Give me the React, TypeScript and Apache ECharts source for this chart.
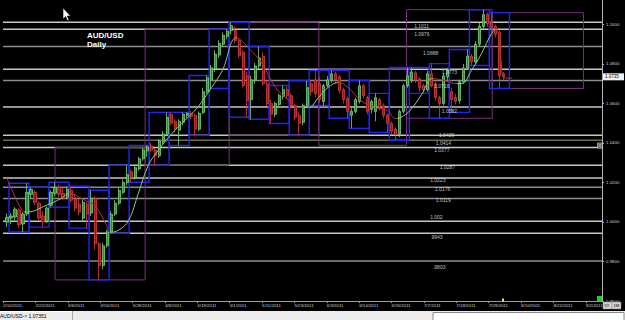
import React, { useEffect, useRef } from 'react';
import * as echarts from 'echarts';

// ---- x axis tick labels (one every 8.09 bars) ----
const tickLabels = ['2/10/2011', '2/22/2011', '3/6/2011', '3/16/2011', '3/28/2011', '4/8/2011', '4/19/2011', '5/1/2011', '5/11/2011', '5/23/2011', '6/3/2011', '6/14/2011', '6/26/2011', '7/7/2011', '7/18/2011', '7/29/2011', '8/10/2011', '8/22/2011', '9/2/2011'];

// ---- daily candles, bar index 1..125 ----
const opens = [
  0.9999, 1.0020, 1.0025, 1.0060, 0.9990, 1.0040,
  1.0140, 1.0150, 1.0095, 1.0030, 1.0005,
  1.0085, 1.0145, 1.0175, 1.0145, 1.0125,
  1.0160, 1.0115, 1.0090, 1.0020, 1.0090,
  1.0045, 1.0120, 0.9890, 0.9780, 0.9880,
  0.9950, 1.0040, 1.0095, 1.0150, 1.0200,
  1.0255, 1.0225, 1.0270, 1.0320, 1.0360,
  1.0385, 1.0365, 1.0335, 1.0405, 1.0445,
  1.0545, 1.0510, 1.0465, 1.0505, 1.0540,
  1.0550, 1.0540, 1.0470, 1.0555, 1.0660,
  1.0720, 1.0775, 1.0845, 1.0900, 1.0940,
  1.0969, 1.0969, 1.0918, 1.0860, 1.0740,
  1.0620, 1.0720, 1.0790, 1.0840, 1.0700,
  1.0600, 1.0545, 1.0595, 1.0635, 1.0670,
  1.0640, 1.0590, 1.0540, 1.0505, 1.0590,
  1.0700, 1.0720, 1.0700, 1.0610, 1.0690,
  1.0720, 1.0750, 1.0735, 1.0670, 1.0625,
  1.0540, 1.0560, 1.0610, 1.0690, 1.0630,
  1.0570, 1.0560, 1.0620, 1.0590, 1.0540,
  1.0500, 1.0470, 1.0445, 1.0560, 1.0690,
  1.0720, 1.0755, 1.0725, 1.0690, 1.0670,
  1.0750, 1.0700, 1.0630, 1.0600, 1.0735,
  1.0660, 1.0630, 1.0615, 1.0710, 1.0780,
  1.0840, 1.0810, 1.0900, 1.0990, 1.1050,
  1.1010, 1.0990, 1.0960, 1.0750,
];
const closes = [
  1.0024, 1.0030, 1.0065, 0.9985, 1.0040, 1.0150,
  1.0165, 1.0100, 1.0020, 1.0000, 1.0070,
  1.0150, 1.0175, 1.0140, 1.0120, 1.0165,
  1.0110, 1.0070, 1.0050, 1.0100, 1.0040,
  1.0120, 0.9890, 0.9780, 0.9880, 0.9950,
  1.0040, 1.0095, 1.0160, 1.0200, 1.0240,
  1.0225, 1.0275, 1.0320, 1.0365, 1.0380,
  1.0365, 1.0335, 1.0410, 1.0445, 1.0530,
  1.0500, 1.0470, 1.0510, 1.0545, 1.0550,
  1.0535, 1.0470, 1.0550, 1.0660, 1.0730,
  1.0780, 1.0850, 1.0905, 1.0945, 1.0965,
  1.0994, 1.0918, 1.0842, 1.0691, 1.0615,
  1.0720, 1.0790, 1.0830, 1.0700, 1.0600,
  1.0545, 1.0600, 1.0640, 1.0670, 1.0640,
  1.0590, 1.0530, 1.0500, 1.0590, 1.0680,
  1.0660, 1.0650, 1.0620, 1.0690, 1.0720,
  1.0750, 1.0720, 1.0665, 1.0620, 1.0560,
  1.0560, 1.0620, 1.0690, 1.0640, 1.0560,
  1.0610, 1.0630, 1.0580, 1.0540, 1.0500,
  1.0460, 1.0445, 1.0560, 1.0690, 1.0740,
  1.0760, 1.0720, 1.0680, 1.0670, 1.0750,
  1.0690, 1.0630, 1.0600, 1.0740, 1.0770,
  1.0620, 1.0610, 1.0710, 1.0780, 1.0840,
  1.0810, 1.0900, 1.0990, 1.1050, 1.1005,
  1.0985, 1.0950, 1.0740, 1.0735,
];
const lows = [
  0.9974, 0.9990, 1.0010, 0.9970, 0.9949, 1.0030,
  1.0120, 1.0085, 1.0005, 0.9974, 0.9995,
  1.0075, 1.0130, 1.0125, 1.0110, 1.0115,
  1.0100, 1.0055, 1.0035, 1.0000, 0.9969,
  1.0030, 0.9860, 0.9707, 0.9760, 0.9870,
  0.9943, 1.0030, 1.0085, 1.0140, 1.0185,
  1.0201, 1.0215, 1.0260, 1.0310, 1.0330,
  1.0355, 1.0287, 1.0325, 1.0395, 1.0435,
  1.0490, 1.0455, 1.0388, 1.0490, 1.0525,
  1.0520, 1.0439, 1.0460, 1.0545, 1.0650,
  1.0676, 1.0760, 1.0830, 1.0885, 1.0925,
  1.0950, 1.0905, 1.0830, 1.0680, 1.0530,
  1.0520, 1.0700, 1.0775, 1.0690, 1.0585,
  1.0499, 1.0530, 1.0580, 1.0620, 1.0625,
  1.0575, 1.0515, 1.0439, 1.0490, 1.0580,
  1.0640, 1.0630, 1.0605, 1.0590, 1.0680,
  1.0705, 1.0700, 1.0650, 1.0600, 1.0525,
  1.0474, 1.0550, 1.0600, 1.0625, 1.0545,
  1.0550, 1.0510, 1.0565, 1.0525, 1.0454,
  1.0440, 1.0414, 1.0430, 1.0550, 1.0680,
  1.0705, 1.0705, 1.0660, 1.0651, 1.0660,
  1.0680, 1.0615, 1.0525, 1.0590, 1.0720,
  1.0555, 1.0595, 1.0600, 1.0700, 1.0770,
  1.0792, 1.0800, 1.0890, 1.0980, 1.0990,
  1.0960, 1.0935, 1.0676, 1.0720,
];
const highs = [
  1.0044, 1.0045, 1.0075, 1.0070, 1.0050, 1.0196,
  1.0176, 1.0160, 1.0105, 1.0055, 1.0080,
  1.0160, 1.0201, 1.0190, 1.0175, 1.0175,
  1.0181, 1.0140, 1.0120, 1.0115, 1.0100,
  1.0161, 1.0130, 0.9900, 0.9895, 0.9960,
  1.0055, 1.0110, 1.0175, 1.0215, 1.0287,
  1.0265, 1.0290, 1.0330, 1.0377, 1.0388,
  1.0400, 1.0375, 1.0420, 1.0460, 1.0555,
  1.0555, 1.0520, 1.0520, 1.0555, 1.0555,
  1.0560, 1.0550, 1.0560, 1.0680, 1.0742,
  1.0795, 1.0870, 1.0920, 1.0960, 1.0976,
  1.1011, 1.0990, 1.0930, 1.0870, 1.0760,
  1.0740, 1.0805, 1.0888, 1.0860, 1.0720,
  1.0620, 1.0610, 1.0650, 1.0691, 1.0685,
  1.0650, 1.0600, 1.0555, 1.0600, 1.0716,
  1.0715, 1.0767, 1.0730, 1.0700, 1.0740,
  1.0767, 1.0760, 1.0745, 1.0680, 1.0635,
  1.0575, 1.0630, 1.0717, 1.0700, 1.0640,
  1.0620, 1.0651, 1.0630, 1.0600, 1.0550,
  1.0510, 1.0480, 1.0570, 1.0700, 1.0782,
  1.0782, 1.0765, 1.0735, 1.0700, 1.0765,
  1.0802, 1.0710, 1.0640, 1.0750, 1.0780,
  1.0680, 1.0650, 1.0720, 1.0800, 1.0873,
  1.0850, 1.0915, 1.1010, 1.1075, 1.1060,
  1.1060, 1.1000, 1.0970, 1.0760,
];
const lastPrice = 1.0735;
const statusPrice = '1.07351';

// ---- weekly range boxes (blue) ----
const weekEdges = [1.5, 6.5, 11.5, 16.5, 21.5, 26.5, 31.5, 36.5, 41.5, 46.5, 51.5, 56.5, 61.5, 66.5, 71.5, 76.5, 81.5, 86.5, 91.5, 96.5, 101.5, 106.5, 111.5, 116.5, 121.5, 126.5];
const weekHigh = [1.0196, 1.0176, 1.0201, 1.0181, 1.0161, 1.0287, 1.0388, 1.0555, 1.0555, 1.0742, 1.0976, 1.1011, 1.0888, 1.0691, 1.0716, 1.0767, 1.0767, 1.0717, 1.0651, 1.0782, 1.0782, 1.0802, 1.0873, 1.1075, 1.1060];
const weekLow = [0.9949, 0.9974, 1.0075, 0.9969, 0.9707, 0.9943, 1.0201, 1.0287, 1.0388, 1.0439, 1.0676, 1.0530, 1.0520, 1.0499, 1.0439, 1.0590, 1.0525, 1.0474, 1.0454, 1.0414, 1.0651, 1.0525, 1.0555, 1.0792, 1.0676];

// ---- monthly range boxes (purple) ----
const monthStart = [13, 35.5, 56.5, 78.9, 100.8, 122.2];
const monthEnd = [35.5, 56.5, 78.9, 100.8, 122.2, 145];
const monthHigh = [1.0377, 1.0976, 1.1011, 1.0773, 1.1075, 1.1060];
const monthLow = [0.9707, 1.0287, 1.0439, 1.0388, 1.0525, 1.0676];

// ---- horizontal levels ----
const levelValues = [1.1011, 1.0976, 1.0888, 1.0773, 1.0716, 1.0582, 1.0439, 1.0414, 1.0377, 1.0287, 1.0223, 1.0176, 1.0119, 1.0004, 0.9943, 0.9803];
const levelLabels = ['1.1011', '1.0976', '1.0888', '1.0773', '1.0716', '1.0582', '1.0439', '1.0414', '1.0377', '1.0287', '1.0223', '1.0176', '1.0119', '1.002', '.9943', '.9803'];
const levelTone = ['hi', 'hi', 'mid', 'hi', 'mid', 'hi', 'hi', 'olive', 'hi', 'hi', 'hi', 'mid', 'mid', 'hi', 'hi', 'mid'];
// label placement (style)
const levelLabelX = [102.7, 102.7, 104.9, 109.6, 107.7, 109.6, 108.9, 108.1, 107.7, 109.1, 106.7, 107.9, 108.1, 106.7, 106.7, 107.4];
const levelLabelDy = [3.4, 4.7, 6, 2.4, 5, 4.4, -0.7, 2.7, 2.4, 1.7, 2, 2, 1.7, -4.5, 3.3, 6];

// ---- moving average line ----
const maIdx = [1, 4.7, 5.9, 10.9, 14.6, 16.5, 19.5, 23.2, 25.7, 26.7, 28.9, 31.4, 33.8, 36.3, 38.8, 42.2, 45.4, 48.6, 52.1, 54.8, 58.3, 61.5, 64.7, 68.1, 71.4, 73.8, 76.3, 78.8, 81.2, 83.7, 86.2, 89.4, 92.8, 96.0, 98.0, 99.3, 101.7, 104.7, 107.2, 110.4, 112.8, 114.6, 117.0, 119.5, 122.0, 123.2, 124.4, 125.2, 127.2];
const maVal = [1.0221, 1.0060, 1.0050, 1.0085, 1.0120, 1.0145, 1.0120, 1.0075, 0.9989, 0.9948, 0.9959, 1.0009, 1.0145, 1.0287, 1.0363, 1.0448, 1.0514, 1.0580, 1.0681, 1.0767, 1.0933, 1.0878, 1.0802, 1.0681, 1.0615, 1.0580, 1.0580, 1.0630, 1.0681, 1.0706, 1.0681, 1.0615, 1.0580, 1.0565, 1.0524, 1.0529, 1.0565, 1.0650, 1.0726, 1.0716, 1.0701, 1.0701, 1.0767, 1.0852, 1.0953, 1.0979, 1.0817, 1.0731, 1.0728];
const maFallRanges = [[0, 5.3], [16.5, 26.7], [58.3, 75], [83.7, 98.5], [107.5, 113.5], [123.2, 150]];

const FONT = 'Liberation Sans, Arial, sans-serif';
const toneColor: Record<string, string> = { hi: '#c6c6c6', mid: '#8c8c8c', olive: '#6e6e4a' };

export default function App() {
  const ref = useRef<HTMLDivElement>(null);
  useEffect(() => {
    const chart = echarts.init(ref.current!, undefined, { renderer: 'svg' });

    const candleData = opens.map((o, k) => [k + 1, o, closes[k], lows[k], highs[k]]);
    const weekData = weekHigh.map((h, k) => [weekEdges[k], weekEdges[k + 1], h, weekLow[k]]);
    const monthData = monthHigh.map((h, k) => [monthStart[k], monthEnd[k], h, monthLow[k]]);
    const levelData = levelValues.map((v, k) => [0, v, k]);
    const maData = maIdx.map((x, k) => [x, maVal[k]]);

    const pieces: any[] = [];
    let prev = 0;
    maFallRanges.forEach(([a, b]) => {
      if (a > prev) pieces.push({ gte: prev, lt: a, color: '#86c886' });
      pieces.push({ gte: a, lt: b, color: '#b83232' });
      prev = b;
    });

    const boxRender = (color: string, width: number) => (params: any, api: any) => {
      const p0 = api.coord([api.value(0), api.value(2)]);
      const p1 = api.coord([api.value(1), api.value(3)]);
      return {
        type: 'rect',
        shape: { x: p0[0], y: p0[1], width: p1[0] - p0[0], height: p1[1] - p0[1] },
        style: { fill: 'none', stroke: color, lineWidth: width },
        silent: true,
      };
    };

    const option: any = {
      animation: false,
      backgroundColor: '#000000',
      textStyle: { fontFamily: FONT },
      grid: { left: -4, top: 0, width: 606, height: 301 },
      xAxis: [
        { type: 'value', min: 0, max: 149.63, show: false, axisLine: { onZero: false } },
        {
          type: 'value', min: 0, max: 18.5, interval: 1, position: 'bottom',
          axisLine: { show: true, onZero: false, lineStyle: { color: '#9a9a9a', width: 1 } },
          axisTick: { show: true, length: 2, lineStyle: { color: '#9a9a9a' } },
          axisLabel: {
            formatter: (v: number) => tickLabels[Math.round(v)] ?? '',
            fontSize: 4.4, color: '#cfcfcf', align: 'left', margin: 2,
            showMaxLabel: false, fontFamily: FONT,
          },
          splitLine: { show: false },
        },
      ],
      yAxis: {
        type: 'value', position: 'right', min: 0.96, max: 1.1124, interval: 0.02,
        axisLine: { show: true, onZero: false, lineStyle: { color: '#b4b4b4', width: 1 } },
        axisTick: { show: true, length: 2, lineStyle: { color: '#b4b4b4' } },
        axisLabel: { fontSize: 4.4, color: '#cfcfcf', margin: 4, formatter: (v: number) => v.toFixed(4), showMaxLabel: false, fontFamily: FONT },
        splitLine: { show: false },
      },
      visualMap: {
        show: false, type: 'piecewise', dimension: 0, seriesIndex: 4,
        pieces: pieces.concat(prev < 150 ? [{ gte: prev, lt: 151, color: '#86c886' }] : []),
      },
      series: [
        {
          type: 'custom', name: 'levels', xAxisIndex: 0, data: levelData, encode: { x: 0, y: 1 }, z: 1, silent: true,
          renderItem: (params: any, api: any) => {
            const y = api.coord([0, api.value(1)])[1];
            const cs = params.coordSys;
            return {
              type: 'line',
              shape: { x1: cs.x, y1: y, x2: cs.x + cs.width, y2: y },
              style: { stroke: toneColor[levelTone[api.value(2)]], lineWidth: 1.5 },
            };
          },
        },
        { type: 'custom', name: 'months', xAxisIndex: 0, data: monthData, encode: { x: [0, 1], y: [2, 3] }, z: 2, renderItem: boxRender('#76327a', 1), silent: true },
        { type: 'custom', name: 'weeks', xAxisIndex: 0, data: weekData, encode: { x: [0, 1], y: [2, 3] }, z: 3, renderItem: boxRender('#2424f2', 1.4), silent: true },
        {
          type: 'candlestick', name: 'AUD/USD', xAxisIndex: 0, data: candleData, encode: { x: 0, y: [1, 2, 3, 4] }, z: 4,
          barWidth: 2.6,
          itemStyle: { color: '#2f8f2f', color0: '#8e1c1c', borderColor: '#78d078', borderColor0: '#d83c3c', borderWidth: 0.8 },
        },
        {
          type: 'line', name: 'MA', xAxisIndex: 0, data: maData, smooth: 0.4, symbol: 'none', z: 5,
          lineStyle: { width: 1 },
        },
        {
          type: 'scatter', name: 'levelLabels', xAxisIndex: 0, symbolSize: 0, z: 6, silent: true,
          data: levelValues.map((v, k) => ({
            value: [levelLabelX[k], v],
            label: { offset: [0, levelLabelDy[k]] },
          })),
          label: {
            show: true, position: 'right', distance: 0,
            formatter: (p: any) => levelLabels[p.dataIndex],
            fontSize: 5, color: '#ececec', fontFamily: FONT,
          },
        },
      ],
    };
    chart.setOption(option);

    const py = chart.convertToPixel({ yAxisIndex: 0 }, lastPrice) as number;
    chart.setOption({
      graphic: [
        { type: 'text', left: 87, top: 31, z: 20, style: { text: 'AUD/USD\nDaily', fontSize: 8, fontWeight: 'bold', fill: '#ffffff', lineHeight: 9, fontFamily: FONT } },
        { type: 'polygon', z: 30, shape: { points: [[63, 8], [63, 19], [65.6, 16.6], [67.4, 20.6], [69, 19.9], [67.3, 16], [70.6, 16]] }, style: { fill: '#ffffff', stroke: '#000000', lineWidth: 0.6 } },
        { type: 'rect', z: 20, shape: { x: 603, y: py - 3.5, width: 21, height: 7 }, style: { fill: '#f2f2f2' } },
        { type: 'text', z: 21, x: 605, y: py, style: { text: lastPrice.toFixed(4), fontSize: 4.5, fill: '#000000', verticalAlign: 'middle', fontFamily: FONT } },
        { type: 'rect', z: 20, shape: { x: 597.5, y: 143, width: 5, height: 5 }, style: { fill: '#3a3a3a', stroke: '#dddddd', lineWidth: 0.7 } },
        { type: 'line', z: 21, shape: { x1: 598.5, y1: 144, x2: 601.5, y2: 147 }, style: { stroke: '#ffffff', lineWidth: 0.7 } },
        { type: 'line', z: 21, shape: { x1: 601.5, y1: 144, x2: 598.5, y2: 147 }, style: { stroke: '#ffffff', lineWidth: 0.7 } },
        { type: 'rect', z: 20, shape: { x: 597, y: 296, width: 5, height: 5 }, style: { fill: '#22d022' } },
        { type: 'rect', z: 20, shape: { x: 502, y: 298.5, width: 2, height: 3 }, style: { fill: '#e6e070' } },
        { type: 'rect', z: 20, shape: { x: 603, y: 302, width: 9, height: 7 }, style: { fill: '#d4d4d4', stroke: '#8a8a8a', lineWidth: 0.5 } },
        { type: 'rect', z: 20, shape: { x: 612, y: 302, width: 9, height: 7 }, style: { fill: '#d4d4d4', stroke: '#8a8a8a', lineWidth: 0.5 } },
        { type: 'text', z: 21, x: 604.5, y: 305.5, style: { text: '5Y', fontSize: 4.2, fill: '#000', verticalAlign: 'middle', fontFamily: FONT } },
        { type: 'text', z: 21, x: 613.5, y: 305.5, style: { text: '1M', fontSize: 4.2, fill: '#000', verticalAlign: 'middle', fontFamily: FONT } },
        { type: 'rect', z: 20, shape: { x: 0, y: 311, width: 625, height: 9 }, style: { fill: '#ececec' } },
        { type: 'line', z: 21, shape: { x1: 0, y1: 311.5, x2: 72, y2: 311.5 }, style: { stroke: '#ffffff', lineWidth: 1 } },
        { type: 'line', z: 21, shape: { x1: 72.5, y1: 311, x2: 72.5, y2: 320 }, style: { stroke: '#a8a8a8', lineWidth: 1 } },
        { type: 'text', z: 21, x: 0, y: 315.5, style: { text: 'AUD/USD-> ' + statusPrice, fontSize: 5, fill: '#000000', verticalAlign: 'middle', fontFamily: FONT } },
        { type: 'rect', z: 21, shape: { x: 433, y: 312.5, width: 191, height: 8 }, style: { fill: '#ffffff', stroke: '#8a8a8a', lineWidth: 1 } },
      ],
    });

    return () => chart.dispose();
  }, []);
  return <div ref={ref} style={{ position: 'absolute', left: 0, top: 0, width: 625, height: 320, background: '#000' }} />;
}
